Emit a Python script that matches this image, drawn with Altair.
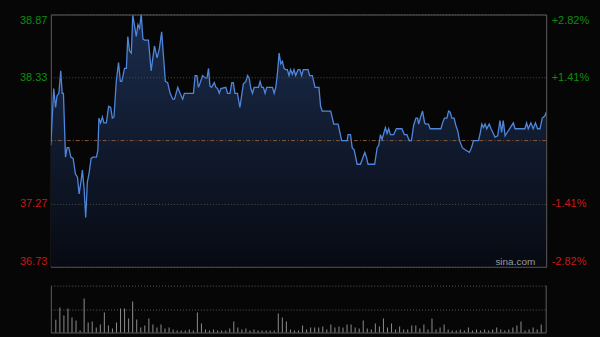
import altair as alt
import pandas as pd

pre_close = 37.80
pct_range = 0.0282

minutes = [0, 1.4, 2.3, 3.0, 3.9, 4.8, 5.5, 6.1, 7.1, 7.9, 8.7, 9.7, 10.8, 11.9, 12.9, 13.7,
           14.5, 15.3, 16.1, 16.9, 17.7, 18.5, 19.5, 20.4, 22.1, 22.8, 23.3, 24.1, 25.0, 25.7,
           26.9, 28.0, 29.0, 29.8, 30.6, 31.7, 32.8, 33.7, 34.4, 35.7, 36.6, 37.3, 38.1, 39.0,
           39.7, 41.4, 42.2, 43.0, 43.8, 44.6, 45.4, 47.3, 48.6, 50.2, 51.5, 52.6, 53.7, 55.5,
           56.6, 57.8, 59.1, 59.9, 61.5, 62.6, 63.9, 64.7, 69.1, 69.9, 70.8, 71.5, 72.4, 73.5,
           74.8, 75.7, 76.4, 77.1, 77.9, 79.2, 80.0, 80.8, 81.6, 82.4, 84.8, 85.6, 86.8, 87.7,
           88.4, 89.2, 90.4, 91.6, 92.6, 93.3, 94.5, 95.3, 96.1, 96.9, 97.7, 98.5, 100.6, 101.4,
           102.2, 103.0, 103.8, 104.6, 107.4, 108.2, 109.0, 109.8, 110.6, 111.4, 112.2, 113.0,
           113.8, 114.6, 115.4, 116.2, 117.0, 117.8, 118.6, 119.8, 120.7, 121.5, 122.3, 124.6,
           125.4, 126.7, 128.0, 129.9, 130.7, 131.5, 135.6, 137.1, 139.2, 140.9, 143.6, 144.0,
           145.2, 146.0, 147.0, 148.4, 150.0, 151.1, 152.1, 152.9, 153.7, 156.9, 158.1, 158.9,
           159.7, 160.5, 161.3, 162.1, 162.9, 163.7, 164.5, 166.1, 167.4, 170.1, 171.3, 172.5,
           173.7, 174.7, 175.8, 176.9, 177.7, 178.2, 179.0, 180.1, 181.1, 181.7, 183.0, 183.8,
           189.0, 189.8, 190.7, 191.9, 192.7, 193.5, 194.3, 195.4, 196.2, 197.2, 198.0, 199.4,
           200.9, 202.8, 203.8, 204.8, 207.2, 208.0, 208.8, 209.6, 210.4, 211.2, 212.4, 213.3,
           214.4, 215.2, 216.5, 217.6, 218.4, 219.2, 220.1, 220.8, 224.1, 224.9, 229.7, 230.5,
           231.3, 232.6, 233.7, 234.8, 235.8, 237.0, 238.1, 239.4, 240.0]

prices = [37.76, 38.24, 38.08, 38.18, 38.20, 38.39, 38.20, 38.20, 37.66, 37.74, 37.74, 37.66,
          37.65, 37.52, 37.49, 37.35, 37.44, 37.55, 37.40, 37.15, 37.45, 37.52, 37.65, 37.66,
          37.66, 37.72, 37.99, 37.95, 38.00, 37.95, 37.95, 38.09, 38.08, 37.99, 38.00, 38.30,
          38.46, 38.30, 38.30, 38.41, 38.41, 38.68, 38.56, 38.54, 38.86, 38.68, 38.78, 38.75,
          38.87, 38.66, 38.65, 38.65, 38.39, 38.60, 38.50, 38.58, 38.72, 38.30, 38.29, 38.20,
          38.15, 38.15, 38.25, 38.20, 38.15, 38.20, 38.20, 38.35, 38.35, 38.25, 38.29, 38.35,
          38.33, 38.33, 38.41, 38.26, 38.25, 38.29, 38.25, 38.24, 38.20, 38.24, 38.25, 38.20,
          38.20, 38.29, 38.29, 38.20, 38.20, 38.08, 38.20, 38.28, 38.30, 38.35, 38.33, 38.24,
          38.20, 38.25, 38.25, 38.30, 38.25, 38.25, 38.20, 38.25, 38.25, 38.20, 38.25, 38.37,
          38.54, 38.45, 38.47, 38.41, 38.40, 38.40, 38.35, 38.40, 38.36, 38.40, 38.35, 38.40,
          38.40, 38.35, 38.40, 38.40, 38.35, 38.35, 38.25, 38.25, 38.09, 38.05, 38.05, 37.94,
          37.94, 37.80, 37.80, 37.85, 37.85, 37.74, 37.72, 37.60, 37.60, 37.65, 37.70, 37.66,
          37.60, 37.60, 37.74, 37.76, 37.85, 37.81, 37.86, 37.91, 37.86, 37.90, 37.85, 37.85,
          37.90, 37.90, 37.85, 37.85, 37.80, 37.80, 37.93, 37.99, 37.99, 37.94, 37.99, 38.05,
          37.95, 37.94, 37.94, 37.90, 37.90, 37.95, 37.99, 37.99, 38.05, 38.04, 37.99, 37.99,
          37.93, 37.88, 37.80, 37.74, 37.72, 37.70, 37.74, 37.80, 37.80, 37.86, 37.94, 37.91,
          37.94, 37.90, 37.94, 37.90, 37.86, 37.83, 37.84, 37.97, 37.87, 37.97, 37.84, 37.86,
          37.95, 37.90, 37.90, 37.95, 37.90, 37.95, 37.90, 37.95, 37.90, 37.90, 37.99, 38.01,
          38.04]

volumes = [1270, 2500, 1700, 2400, 1500, 1200, 200, 3400, 1000, 1100,
           500, 800, 2000, 700, 400, 1000, 2400, 2400, 1400, 3100,
           1300, 500, 700, 1400, 800, 500, 800, 400, 500, 300,
           200, 200, 200, 300, 200, 2000, 900, 300, 200, 300,
           200, 200, 200, 400, 1100, 500, 300, 400, 200, 300,
           200, 200, 200, 200, 200, 1900, 1500, 1100, 300, 200,
           200, 700, 300, 500, 500, 500, 600, 300, 800, 500,
           600, 500, 800, 800, 500, 400, 1200, 400, 300, 900,
           600, 1400, 500, 900, 300, 600, 300, 300, 700, 700,
           400, 800, 300, 1400, 300, 500, 800, 300, 200, 200,
           300, 200, 500, 200, 300, 200, 300, 200, 300, 500,
           300, 200, 300, 500, 700, 1100, 200, 300, 500, 300,
           800]
vol_max = 4700

lo = pre_close * (1 - pct_range)
hi = pre_close * (1 + pct_range)
tick_vals = [lo, pre_close * (1 - pct_range / 2), pre_close * (1 + pct_range / 2), hi]
grid_x = [240 * k / 11 for k in range(1, 11)]

df = pd.DataFrame({"t": minutes, "p": prices})
vdf = pd.DataFrame({"t": [2 * i for i in range(len(volumes))], "v": volumes})

FONT = "Liberation Sans"
BORDER = "#5c5c5c"
GREEN = "#0f8c0f"
RED = "#c81818"

xs = alt.Scale(domain=[0, 240], nice=False, zero=False)
ys = alt.Scale(domain=[lo, hi], nice=False, zero=False)

x_axis = alt.Axis(values=grid_x, labels=False, ticks=False, domain=False, grid=True,
                  gridColor="#3e3e3e", gridDash=[1, 2], title=None, zindex=1)

left_axis = alt.Axis(values=tick_vals, labelExpr="format(datum.value, '.2f')",
                     labelColor={"condition": {"test": f"datum.value > {pre_close}", "value": GREEN},
                                 "value": RED},
                     labelFlush=True, ticks=False, domain=False, grid=True,
                     gridColor="#4e4e4e", gridDash=[1, 2], labelPadding=4,
                     labelFont=FONT, labelFontSize=11, title=None, zindex=1)

right_axis = alt.Axis(orient="right", values=tick_vals,
                      labelExpr=f"(datum.value > {pre_close} ? '+' : '-') + format(abs(datum.value / {pre_close} - 1) * 100, '.2f') + '%'",
                      labelColor={"condition": {"test": f"datum.value > {pre_close}", "value": GREEN},
                                  "value": RED},
                      labelFlush=True, ticks=False, domain=False, grid=False, labelPadding=5,
                      labelFont=FONT, labelFontSize=11, title=None)

area = alt.Chart(df).mark_area(
    clip=True,
    color=alt.Gradient(gradient="linear",
                       stops=[alt.GradientStop(color="#1b2c4c", offset=0),
                              alt.GradientStop(color="#070a12", offset=1)],
                       x1=0, x2=0, y1=0, y2=1)
).encode(
    x=alt.X("t:Q", scale=xs, axis=x_axis),
    y=alt.Y("p:Q", scale=ys, axis=left_axis),
    y2=alt.datum(lo),
)

pre_rule = alt.Chart(pd.DataFrame({"p": [pre_close]})).mark_rule(
    color="#8a5634", strokeDash=[4, 2, 1, 2], strokeWidth=1
).encode(y=alt.Y("p:Q", scale=ys, axis=None))

line = alt.Chart(df).mark_line(clip=True, color="#4f86dc", strokeWidth=1.3).encode(
    x=alt.X("t:Q", scale=xs, axis=None),
    y=alt.Y("p:Q", scale=ys, axis=right_axis),
)

wm = alt.Chart(pd.DataFrame({"s": ["sina.com"]})).mark_text(
    align="right", baseline="middle", font=FONT, fontSize=10, color="#9a9a9a"
).encode(x=alt.value(486), y=alt.value(248), text="s:N")

main = alt.layer(area, pre_rule, line, wm).resolve_axis(y="independent").properties(
    width=497, height=253, view=alt.ViewBackground(stroke=BORDER, strokeWidth=1)
)

vbar = alt.Chart(vdf).mark_bar(color="#8c8c8c", size=1).encode(
    x=alt.X("t:Q", scale=xs, axis=alt.Axis(labels=False, ticks=False, grid=False, domain=True,
                                           domainColor=BORDER, title=None)),
    y=alt.Y("v:Q", scale=alt.Scale(domain=[0, vol_max], nice=False),
            axis=alt.Axis(values=[vol_max / 2, vol_max], labels=False, ticks=False,
                          domainColor=BORDER, gridColor="#5a5a5a", gridDash=[1, 2], title=None)),
)
vright = alt.Chart(pd.DataFrame({"a": [0]})).mark_rule(color=BORDER).encode(
    x=alt.value(497), y=alt.value(0), y2=alt.value(47)
)
vol = alt.layer(vbar, vright).properties(
    width=497, height=47, view=alt.ViewBackground(stroke="transparent")
)

chart = alt.vconcat(main, vol, spacing=19, bounds="flush").properties(
    padding={"left": 18, "top": 13, "right": 10, "bottom": 5},
    autosize=alt.AutoSizeParams(type="pad"),
    background="#060606",
)

chart.save("out.html", embed_options={"renderer": "svg", "actions": False})
